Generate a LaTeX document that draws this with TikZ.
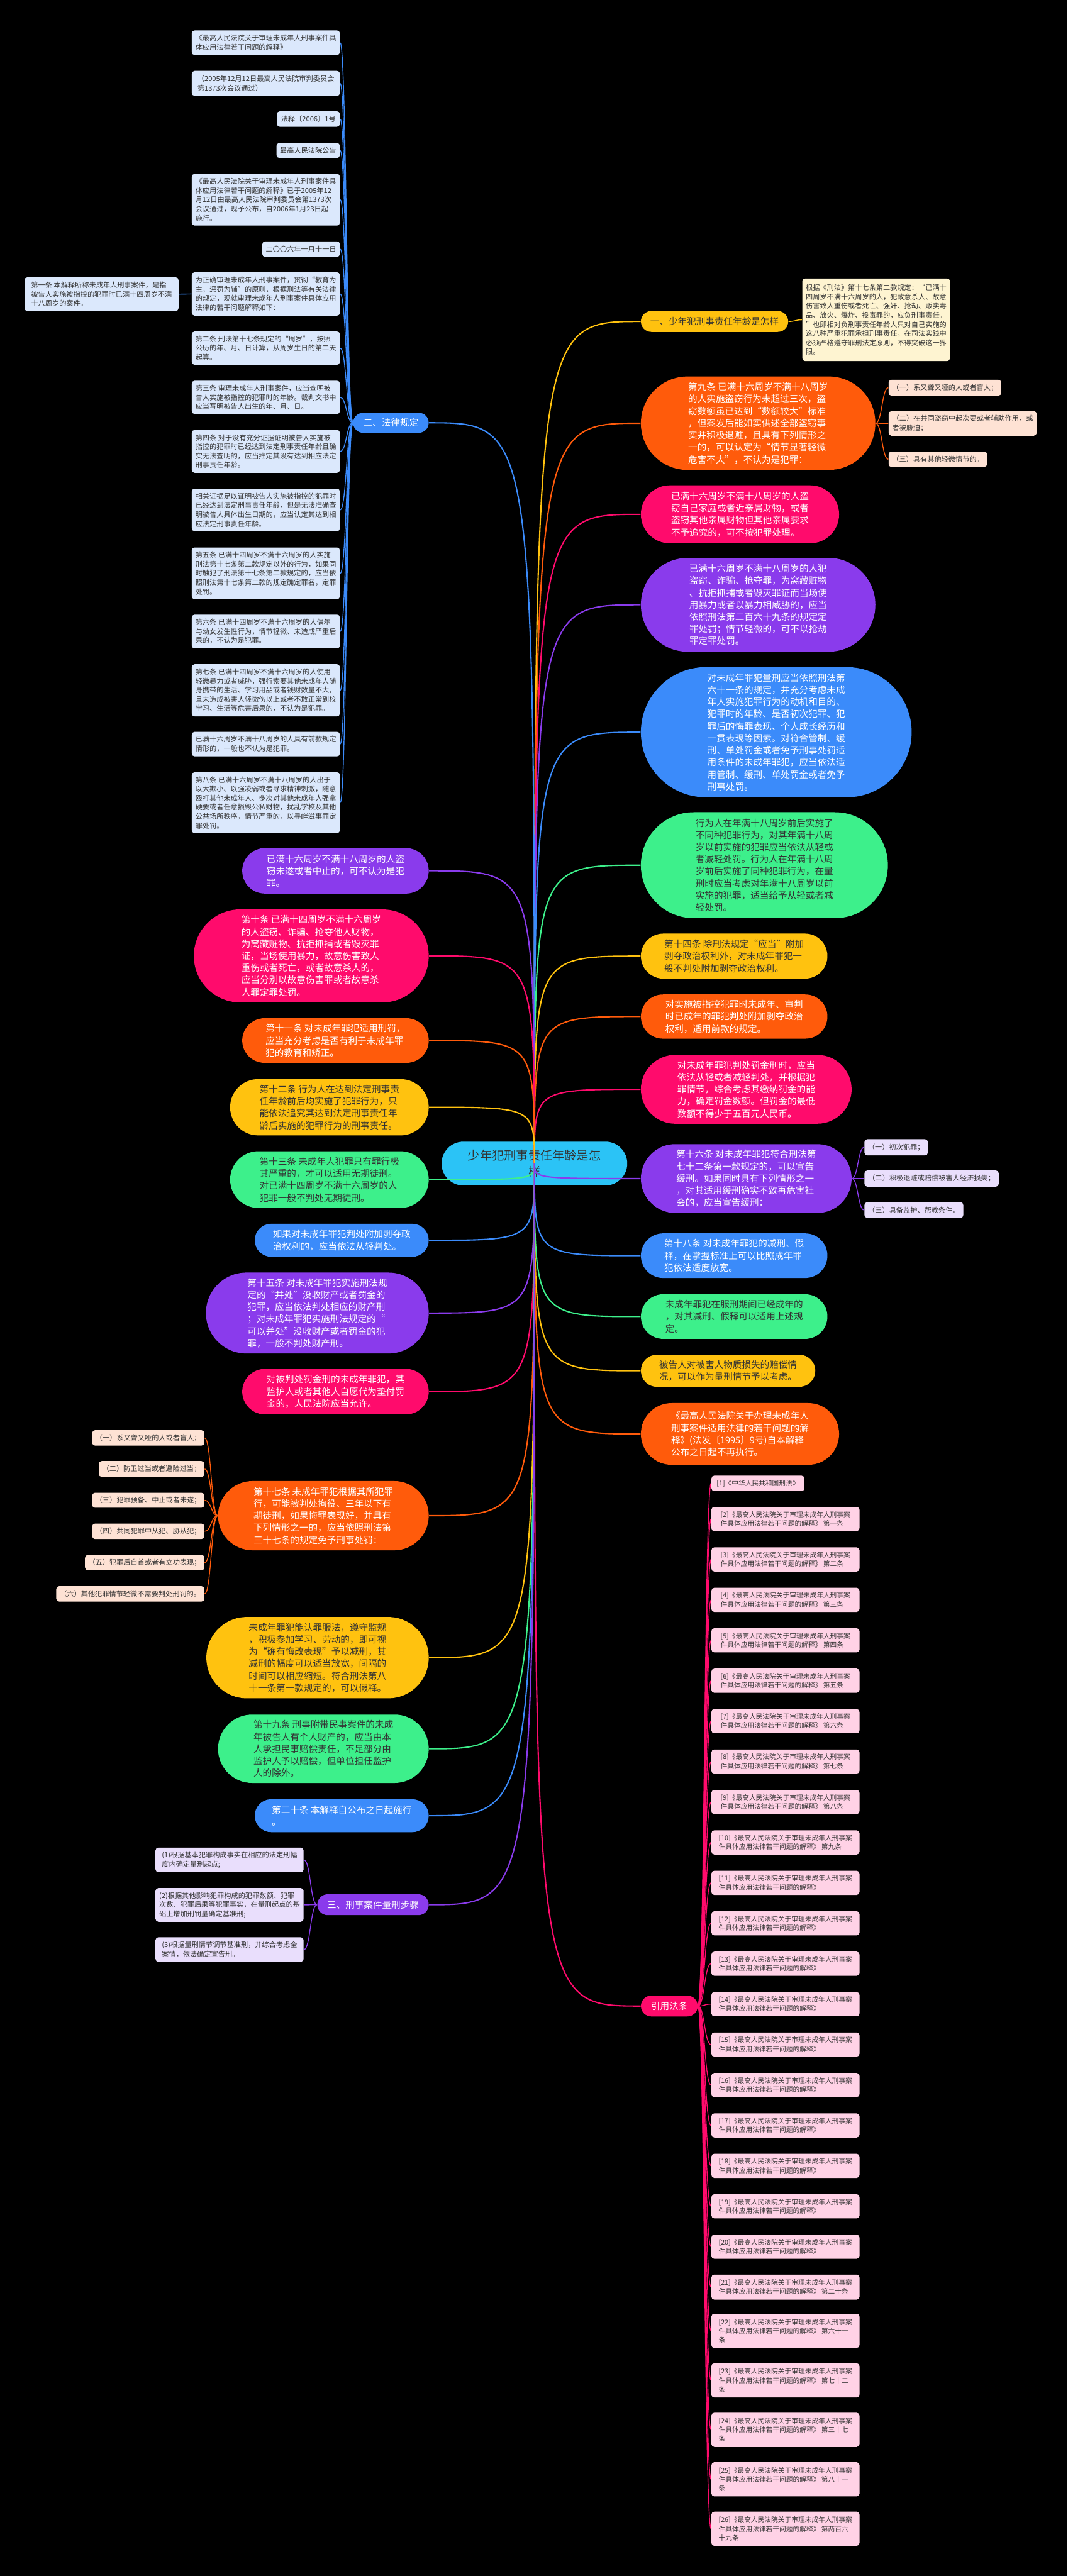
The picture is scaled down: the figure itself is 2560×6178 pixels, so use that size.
\documentclass[tikz,border=0pt]{standalone}
\usepackage{fontspec}
\setmainfont{Noto Sans CJK SC}
\usetikzlibrary{shapes.misc,calc}

\definecolor{themecyan}{HTML}{2BC3F6}
\definecolor{mmyellow}{HTML}{FFC20F}
\definecolor{mmorange}{HTML}{FF5B0B}
\definecolor{mmpink}{HTML}{FF0B6C}
\definecolor{mmpurple}{HTML}{8A3BEC}
\definecolor{mmblue}{HTML}{3B8BFA}
\definecolor{mmgreen}{HTML}{3DF08B}
\definecolor{ink}{HTML}{333333}
\definecolor{lawbox}{HTML}{DBE8FC}
\definecolor{notebox}{HTML}{FEF4D1}
\definecolor{peachbox}{HTML}{FEE2D4}
\definecolor{lilacbox}{HTML}{E9DEFC}
\definecolor{citebox}{HTML}{FFD2E6}

\newcommand{\pillfont}{\fontsize{6.26pt}{8.25pt}\selectfont}
\newcommand{\leaffont}{\fontsize{4.8pt}{6.26pt}\selectfont}
\newcommand{\citefont}{\fontsize{4.6pt}{6.1pt}\selectfont}
\newcommand{\themefont}{\fontsize{8.25pt}{10.8pt}\selectfont}

\begin{document}
\begin{tikzpicture}[x=0.01cm, y=-0.01cm, node distance=0.969cm]
      % Styles
      \tikzstyle{pill} = [rounded rectangle, inner sep=0pt, align=left, font=\pillfont, text=white]
      \tikzstyle{darkpill} = [pill, text=ink]
      \tikzstyle{leaf} = [rectangle, rounded corners=2pt, inner sep=0pt, align=left, font=\leaffont, text=ink]
      \tikzstyle{lawitem} = [leaf, fill=lawbox, minimum width=3.55cm]
      \tikzstyle{citeitem} = [leaf, fill=citebox, font=\citefont, minimum width=3.55cm]
      \tikzstyle{trunk} = [line width=0.9pt, to path={.. controls (\tikztostart |- \tikztotarget) .. (\tikztotarget)}]
      \tikzstyle{twig} = [line width=0.6pt, to path={.. controls ($(\tikztostart)!0.5!(\tikztotarget |- \tikztostart)$) and ($(\tikztotarget)!0.5!(\tikztostart |- \tikztotarget)$) .. (\tikztotarget)}]

      \path[fill=black, use as bounding box] (0,0) rectangle (2560,6178);

      % Nodes
      \node[pill, fill=themecyan, text=ink, font=\themefont, align=center, minimum width=4.45cm, minimum height=1.05cm] (theme) at (1281.5,2790.5) {少年犯刑事责任年龄是怎\\样};

      % right side
      \node[darkpill, fill=mmyellow, minimum width=3.53cm, minimum height=0.5cm] (age) at (1713.5,771) {一、少年犯刑事责任年龄是怎样};
      \node[leaf, fill=notebox, minimum width=3.54cm, minimum height=1.98cm] (agenote) at (2101,767) {根据《刑法》第十七条第二款规定：“已满十\\四周岁不满十六周岁的人，犯故意杀人、故意\\伤害致人重伤或者死亡、强奸、抢劫、贩卖毒\\品、放火、爆炸、投毒罪的，应负刑事责任。\\”也即相对负刑事责任年龄人只对自己实施的\\这八种严重犯罪承担刑事责任，在司法实践中\\必须严格遵守罪刑法定原则，不得突破这一界\\限。};
      \node[pill, fill=mmorange, minimum width=5.62cm, minimum height=2.24cm] (theft) at (1818,1015) {第九条 已满十六周岁不满十八周岁\\的人实施盗窃行为未超过三次，盗\\窃数额虽已达到“数额较大”标准\\，但案发后能如实供述全部盗窃事\\实并积极退赃，且具有下列情形之\\一的，可以认定为“情节显著轻微\\危害不大”，不认为是犯罪：};
      \node[leaf, fill=peachbox, minimum width=2.7cm, minimum height=0.38cm] (theft1) at (2266,930) {（一）系又聋又哑的人或者盲人；};
      \node[leaf, fill=peachbox, minimum width=3.55cm, minimum height=0.59cm] (theft2) at (2308.5,1015.5) {（二）在共同盗窃中起次要或者辅助作用，或\\者被胁迫；};
      \node[leaf, fill=peachbox, minimum width=2.36cm, minimum height=0.37cm] (theft3) at (2249,1101.5) {（三）具有其他轻微情节的。};
      \node[pill, fill=mmpink, minimum width=4.75cm, minimum height=1.39cm] (family) at (1774.5,1233.5) {已满十六周岁不满十八周岁的人盗\\窃自己家庭或者近亲属财物，或者\\盗窃其他亲属财物但其他亲属要求\\不予追究的，可不按犯罪处理。};
      \node[pill, fill=mmpurple, minimum width=5.62cm, minimum height=2.25cm] (robbery) at (1818,1450.5) {已满十六周岁不满十八周岁的人犯\\盗窃、诈骗、抢夺罪，为窝藏赃物\\、抗拒抓捕或者毁灭罪证而当场使\\用暴力或者以暴力相威胁的，应当\\依照刑法第二百六十九条的规定定\\罪处罚；情节轻微的，可不以抢劫\\罪定罪处罚。};
      \node[pill, fill=mmblue, minimum width=6.49cm, minimum height=3.12cm] (sentence) at (1861.5,1756) {对未成年罪犯量刑应当依照刑法第\\六十一条的规定，并充分考虑未成\\年人实施犯罪行为的动机和目的、\\犯罪时的年龄、是否初次犯罪、犯\\罪后的悔罪表现、个人成长经历和\\一贯表现等因素。对符合管制、缓\\刑、单处罚金或者免予刑事处罚适\\用条件的未成年罪犯，应当依法适\\用管制、缓刑、单处罚金或者免予\\刑事处罚。};
      \node[darkpill, fill=mmgreen, minimum width=5.92cm, minimum height=2.54cm] (crossage) at (1833,2075) {行为人在年满十八周岁前后实施了\\不同种犯罪行为，对其年满十八周\\岁以前实施的犯罪应当依法从轻或\\者减轻处罚。行为人在年满十八周\\岁前后实施了同种犯罪行为，在量\\刑时应当考虑对年满十八周岁以前\\实施的犯罪，适当给予从轻或者减\\轻处罚。};
      \node[darkpill, fill=mmyellow, minimum width=4.47cm, minimum height=1.08cm] (deprive) at (1760.5,2293) {第十四条 除刑法规定“应当”附加\\剥夺政治权利外，对未成年罪犯一\\般不判处附加剥夺政治权利。};
      \node[pill, fill=mmorange, minimum width=4.47cm, minimum height=1.06cm] (adult) at (1760.5,2438) {对实施被指控犯罪时未成年、审判\\时已成年的罪犯判处附加剥夺政治\\权利，适用前款的规定。};
      \node[pill, fill=mmpink, minimum width=5.05cm, minimum height=1.65cm] (fine) at (1789.5,2612.5) {对未成年罪犯判处罚金刑时，应当\\依法从轻或者减轻判处，并根据犯\\罪情节，综合考虑其缴纳罚金的能\\力，确定罚金数额。但罚金的最低\\数额不得少于五百元人民币。};
      \node[pill, fill=mmpurple, minimum width=5.05cm, minimum height=1.65cm] (probation) at (1789.5,2826.5) {第十六条 对未成年罪犯符合刑法第\\七十二条第一款规定的，可以宣告\\缓刑。如果同时具有下列情形之一\\，对其适用缓刑确实不致再危害社\\会的，应当宣告缓刑：};
      \node[leaf, fill=lilacbox, minimum width=1.52cm, minimum height=0.39cm] (probation1) at (2149,2751.5) {（一）初次犯罪；};
      \node[leaf, fill=lilacbox, minimum width=3.22cm, minimum height=0.39cm] (probation2) at (2234,2826.5) {（二）积极退赃或赔偿被害人经济损失；};
      \node[leaf, fill=lilacbox, minimum width=2.37cm, minimum height=0.38cm] (probation3) at (2191.5,2902) {（三）具备监护、帮教条件。};
      \node[pill, fill=mmblue, minimum width=4.47cm, minimum height=1.07cm] (commute) at (1760.5,3011.5) {第十八条 对未成年罪犯的减刑、假\\释，在掌握标准上可以比照成年罪\\犯依法适度放宽。};
      \node[darkpill, fill=mmgreen, minimum width=4.47cm, minimum height=1.07cm] (serving) at (1760.5,3157.5) {未成年罪犯在服刑期间已经成年的\\，对其减刑、假释可以适用上述规\\定。};
      \node[darkpill, fill=mmyellow, minimum width=4.18cm, minimum height=0.77cm] (compensate) at (1746,3287.5) {被告人对被害人物质损失的赔偿情\\况，可以作为量刑情节予以考虑。};
      \node[pill, fill=mmorange, minimum width=4.75cm, minimum height=1.48cm] (repeal) at (1774.5,3439) {《最高人民法院关于办理未成年人\\刑事案件适用法律的若干问题的解\\释》(法发〔1995〕9号)自本解释\\公布之日起不再执行。};
      \node[pill, fill=mmpink, minimum width=1.36cm, minimum height=0.5cm] (cite) at (1605,4811) {引用法条};

      % cited articles
      \node[citeitem, minimum width=2.23cm, minimum height=0.37cm] (cite1) at (1817.5,3557.5) {[1]《中华人民共和国刑法》};
      \node[citeitem, minimum height=0.58cm] (cite2) at (1883.5,3643) {[2]《最高人民法院关于审理未成年人刑事案\\件具体应用法律若干问题的解释》 第一条};
      \node[citeitem, minimum height=0.58cm, below of=cite2] (cite3) {[3]《最高人民法院关于审理未成年人刑事案\\件具体应用法律若干问题的解释》 第二条};
      \node[citeitem, minimum height=0.58cm, below of=cite3] (cite4) {[4]《最高人民法院关于审理未成年人刑事案\\件具体应用法律若干问题的解释》 第三条};
      \node[citeitem, minimum height=0.58cm, below of=cite4] (cite5) {[5]《最高人民法院关于审理未成年人刑事案\\件具体应用法律若干问题的解释》 第四条};
      \node[citeitem, minimum height=0.58cm, below of=cite5] (cite6) {[6]《最高人民法院关于审理未成年人刑事案\\件具体应用法律若干问题的解释》 第五条};
      \node[citeitem, minimum height=0.58cm, below of=cite6] (cite7) {[7]《最高人民法院关于审理未成年人刑事案\\件具体应用法律若干问题的解释》 第六条};
      \node[citeitem, minimum height=0.58cm, below of=cite7] (cite8) {[8]《最高人民法院关于审理未成年人刑事案\\件具体应用法律若干问题的解释》 第七条};
      \node[citeitem, minimum height=0.58cm, below of=cite8] (cite9) {[9]《最高人民法院关于审理未成年人刑事案\\件具体应用法律若干问题的解释》 第八条};
      \node[citeitem, minimum height=0.58cm, below of=cite9] (cite10) {[10]《最高人民法院关于审理未成年人刑事案\\件具体应用法律若干问题的解释》 第九条};
      \node[citeitem, minimum height=0.58cm, below of=cite10] (cite11) {[11]《最高人民法院关于审理未成年人刑事案\\件具体应用法律若干问题的解释》};
      \node[citeitem, minimum height=0.58cm, below of=cite11] (cite12) {[12]《最高人民法院关于审理未成年人刑事案\\件具体应用法律若干问题的解释》};
      \node[citeitem, minimum height=0.58cm, below of=cite12] (cite13) {[13]《最高人民法院关于审理未成年人刑事案\\件具体应用法律若干问题的解释》};
      \node[citeitem, minimum height=0.58cm, below of=cite13] (cite14) {[14]《最高人民法院关于审理未成年人刑事案\\件具体应用法律若干问题的解释》};
      \node[citeitem, minimum height=0.58cm, below of=cite14] (cite15) {[15]《最高人民法院关于审理未成年人刑事案\\件具体应用法律若干问题的解释》};
      \node[citeitem, minimum height=0.58cm, below of=cite15] (cite16) {[16]《最高人民法院关于审理未成年人刑事案\\件具体应用法律若干问题的解释》};
      \node[citeitem, minimum height=0.58cm, below of=cite16] (cite17) {[17]《最高人民法院关于审理未成年人刑事案\\件具体应用法律若干问题的解释》};
      \node[citeitem, minimum height=0.58cm, below of=cite17] (cite18) {[18]《最高人民法院关于审理未成年人刑事案\\件具体应用法律若干问题的解释》};
      \node[citeitem, minimum height=0.58cm, below of=cite18] (cite19) {[19]《最高人民法院关于审理未成年人刑事案\\件具体应用法律若干问题的解释》};
      \node[citeitem, minimum height=0.58cm, below of=cite19] (cite20) {[20]《最高人民法院关于审理未成年人刑事案\\件具体应用法律若干问题的解释》};
      \node[citeitem, minimum height=0.6cm, below of=cite20] (cite21) {[21]《最高人民法院关于审理未成年人刑事案\\件具体应用法律若干问题的解释》 第二十条};
      \node[citeitem, minimum height=0.82cm] (cite22) at (1883.5,5590) {[22]《最高人民法院关于审理未成年人刑事案\\件具体应用法律若干问题的解释》 第六十一\\条};
      \node[citeitem, minimum height=0.82cm, node distance=1.186cm, below of=cite22] (cite23) {[23]《最高人民法院关于审理未成年人刑事案\\件具体应用法律若干问题的解释》 第七十二\\条};
      \node[citeitem, minimum height=0.82cm, node distance=1.186cm, below of=cite23] (cite24) {[24]《最高人民法院关于审理未成年人刑事案\\件具体应用法律若干问题的解释》 第三十七\\条};
      \node[citeitem, minimum height=0.82cm, node distance=1.186cm, below of=cite24] (cite25) {[25]《最高人民法院关于审理未成年人刑事案\\件具体应用法律若干问题的解释》 第八十一\\条};
      \node[citeitem, minimum height=0.82cm, node distance=1.186cm, below of=cite25] (cite26) {[26]《最高人民法院关于审理未成年人刑事案\\件具体应用法律若干问题的解释》 第两百六\\十九条};

      % left side
      \node[pill, fill=mmblue, minimum width=1.81cm, minimum height=0.48cm] (rules) at (937.5,1014) {二、法律规定};
      \node[lawitem, minimum height=0.59cm] (law1) at (637.5,102.5) {《最高人民法院关于审理未成年人刑事案件具\\体应用法律若干问题的解释》};
      \node[lawitem, minimum height=0.6cm] (law2) at (637.5,200) {（2005年12月12日最高人民法院审判委员会\\第1373次会议通过）};
      \node[lawitem, minimum width=1.51cm, minimum height=0.37cm] (law3) at (739.5,285.5) {法释〔2006〕1号};
      \node[lawitem, minimum width=1.52cm, minimum height=0.36cm] (law4) at (739,361) {最高人民法院公告};
      \node[lawitem, minimum height=1.24cm] (law5) at (637.5,479) {《最高人民法院关于审理未成年人刑事案件具\\体应用法律若干问题的解释》已于2005年12\\月12日由最高人民法院审判委员会第1373次\\会议通过，现予公布，自2006年1月23日起\\施行。};
      \node[lawitem, minimum width=1.86cm, minimum height=0.37cm] (law6) at (722,597.5) {二〇〇六年一月十一日};
      \node[lawitem, minimum height=1.04cm] (law7) at (637.5,705) {为正确审理未成年人刑事案件，贯彻“教育为\\主，惩罚为辅”的原则，根据刑法等有关法律\\的规定，现就审理未成年人刑事案件具体应用\\法律的若干问题解释如下：};
      \node[lawitem, minimum width=3.69cm, minimum height=0.81cm] (lawfirst) at (243.5,705.5) {第一条 本解释所称未成年人刑事案件，是指\\被告人实施被指控的犯罪时已满十四周岁不满\\十八周岁的案件。};
      \node[lawitem, minimum height=0.8cm] (law8) at (637.5,835) {第二条 刑法第十七条规定的“周岁”，按照\\公历的年、月、日计算，从周岁生日的第二天\\起算。};
      \node[lawitem, minimum height=0.8cm] (law9) at (637.5,953) {第三条 审理未成年人刑事案件，应当查明被\\告人实施被指控的犯罪时的年龄。裁判文书中\\应当写明被告人出生的年、月、日。};
      \node[lawitem, minimum height=1.03cm] (law10) at (637.5,1082.5) {第四条 对于没有充分证据证明被告人实施被\\指控的犯罪时已经达到法定刑事责任年龄且确\\实无法查明的，应当推定其没有达到相应法定\\刑事责任年龄。};
      \node[lawitem, minimum height=1.02cm] (law11) at (637.5,1223) {相关证据足以证明被告人实施被指控的犯罪时\\已经达到法定刑事责任年龄，但是无法准确查\\明被告人具体出生日期的，应当认定其达到相\\应法定刑事责任年龄。};
      \node[lawitem, minimum height=1.24cm] (law12) at (637.5,1375) {第五条 已满十四周岁不满十六周岁的人实施\\刑法第十七条第二款规定以外的行为，如果同\\时触犯了刑法第十七条第二款规定的，应当依\\照刑法第十七条第二款的规定确定罪名，定罪\\处罚。};
      \node[lawitem, minimum height=0.81cm] (law13) at (637.5,1514.5) {第六条 已满十四周岁不满十六周岁的人偶尔\\与幼女发生性行为，情节轻微、未造成严重后\\果的，不认为是犯罪。};
      \node[lawitem, minimum height=1.25cm] (law14) at (637.5,1655.5) {第七条 已满十四周岁不满十六周岁的人使用\\轻微暴力或者威胁，强行索要其他未成年人随\\身携带的生活、学习用品或者钱财数量不大，\\且未造成被害人轻微伤以上或者不敢正常到校\\学习、生活等危害后果的，不认为是犯罪。};
      \node[lawitem, minimum height=0.59cm] (law15) at (637.5,1784.5) {已满十六周岁不满十八周岁的人具有前款规定\\情形的，一般也不认为是犯罪。};
      \node[lawitem, minimum height=1.46cm] (law16) at (637.5,1925) {第八条 已满十六周岁不满十八周岁的人出于\\以大欺小、以强凌弱或者寻求精神刺激，随意\\殴打其他未成年人、多次对其他未成年人强拿\\硬要或者任意损毁公私财物，扰乱学校及其他\\公共场所秩序，情节严重的，以寻衅滋事罪定\\罪处罚。};

      \node[pill, fill=mmpurple, minimum width=4.47cm, minimum height=1.09cm] (attempt) at (804.5,2088.5) {已满十六周岁不满十八周岁的人盗\\窃未遂或者中止的，可不认为是犯\\罪。};
      \node[pill, fill=mmpink, minimum width=5.63cm, minimum height=2.23cm] (violence) at (746.5,2292.5) {第十条 已满十四周岁不满十六周岁\\的人盗窃、诈骗、抢夺他人财物，\\为窝藏赃物、抗拒抓捕或者毁灭罪\\证，当场使用暴力，故意伤害致人\\重伤或者死亡，或者故意杀人的，\\应当分别以故意伤害罪或者故意杀\\人罪定罪处罚。};
      \node[pill, fill=mmorange, minimum width=4.47cm, minimum height=1.07cm] (correct) at (804.5,2495.5) {第十一条 对未成年罪犯适用刑罚，\\应当充分考虑是否有利于未成年罪\\犯的教育和矫正。};
      \node[darkpill, fill=mmyellow, minimum width=4.76cm, minimum height=1.35cm] (threshold) at (790,2655.5) {第十二条 行为人在达到法定刑事责\\任年龄前后均实施了犯罪行为，只\\能依法追究其达到法定刑事责任年\\龄后实施的犯罪行为的刑事责任。};
      \node[darkpill, fill=mmgreen, minimum width=4.76cm, minimum height=1.36cm] (lifeterm) at (790,2829) {第十三条 未成年人犯罪只有罪行极\\其严重的，才可以适用无期徒刑。\\对已满十四周岁不满十六周岁的人\\犯罪一般不判处无期徒刑。};
      \node[pill, fill=mmblue, minimum width=4.17cm, minimum height=0.79cm] (lighter) at (819.5,2974.5) {如果对未成年罪犯判处附加剥夺政\\治权利的，应当依法从轻判处。};
      \node[pill, fill=mmpurple, minimum width=5.34cm, minimum height=1.94cm] (property) at (761,3149) {第十五条 对未成年罪犯实施刑法规\\定的“并处”没收财产或者罚金的\\犯罪，应当依法判处相应的财产刑\\；对未成年罪犯实施刑法规定的“\\可以并处”没收财产或者罚金的犯\\罪，一般不判处财产刑。};
      \node[pill, fill=mmpink, minimum width=4.47cm, minimum height=1.09cm] (advance) at (804.5,3337.5) {对被判处罚金刑的未成年罪犯，其\\监护人或者其他人自愿代为垫付罚\\金的，人民法院应当允许。};
      \node[pill, fill=mmorange, minimum width=5.05cm, minimum height=1.66cm] (exempt) at (775.5,3635) {第十七条 未成年罪犯根据其所犯罪\\行，可能被判处拘役、三年以下有\\期徒刑，如果悔罪表现好，并具有\\下列情形之一的，应当依照刑法第\\三十七条的规定免予刑事处罚：};
      \node[leaf, fill=peachbox, minimum width=2.69cm, minimum height=0.37cm] (exempt1) at (355.5,3448.5) {（一）系又聋又哑的人或者盲人；};
      \node[leaf, fill=peachbox, minimum width=2.53cm, minimum height=0.38cm] (exempt2) at (363.5,3523) {（二）防卫过当或者避险过当；};
      \node[leaf, fill=peachbox, minimum width=2.69cm, minimum height=0.36cm] (exempt3) at (355.5,3598) {（三）犯罪预备、中止或者未遂；};
      \node[leaf, fill=peachbox, minimum width=2.69cm, minimum height=0.37cm] (exempt4) at (355.5,3672.5) {（四）共同犯罪中从犯、胁从犯；};
      \node[leaf, fill=peachbox, minimum width=2.86cm, minimum height=0.37cm] (exempt5) at (347,3747.5) {（五）犯罪后自首或者有立功表现；};
      \node[leaf, fill=peachbox, minimum width=3.55cm, minimum height=0.37cm] (exempt6) at (312.5,3822.5) {（六）其他犯罪情节轻微不需要判处刑罚的。};
      \node[darkpill, fill=mmyellow, minimum width=5.33cm, minimum height=1.95cm] (parole) at (761.5,3975.5) {未成年罪犯能认罪服法，遵守监规\\，积极参加学习、劳动的，即可视\\为“确有悔改表现”予以减刑，其\\减刑的幅度可以适当放宽，间隔的\\时间可以相应缩短。符合刑法第八\\十一条第一款规定的，可以假释。};
      \node[darkpill, fill=mmgreen, minimum width=5.05cm, minimum height=1.64cm] (civil) at (775.5,4194) {第十九条 刑事附带民事案件的未成\\年被告人有个人财产的，应当由本\\人承担民事赔偿责任，不足部分由\\监护人予以赔偿，但单位担任监护\\人的除外。};
      \node[pill, fill=mmblue, minimum width=4.17cm, minimum height=0.79cm] (effect) at (819.5,4354.5) {第二十条 本解释自公布之日起施行\\。};
      \node[pill, fill=mmpurple, minimum width=2.67cm, minimum height=0.5cm] (steps) at (894.5,4568) {三、刑事案件量刑步骤};
      \node[leaf, fill=lilacbox, minimum width=3.55cm, minimum height=0.59cm] (step1) at (550.5,4460.5) {(1)根据基本犯罪构成事实在相应的法定刑幅\\度内确定量刑起点;};
      \node[leaf, fill=lilacbox, minimum width=3.55cm, minimum height=0.81cm] (step2) at (550.5,4568.5) {(2)根据其他影响犯罪构成的犯罪数额、犯罪\\次数、犯罪后果等犯罪事实，在量刑起点的基\\础上增加刑罚量确定基准刑;};
      \node[leaf, fill=lilacbox, minimum width=3.55cm, minimum height=0.59cm] (step3) at (550.5,4675.5) {(3)根据量刑情节调节基准刑，并综合考虑全\\案情，依法确定宣告刑。};

      % Connectors
      \foreach \n/\c in {age/mmyellow, theft/mmorange, family/mmpink, robbery/mmpurple, sentence/mmblue, crossage/mmgreen, deprive/mmyellow, adult/mmorange, fine/mmpink, probation/mmpurple, commute/mmblue, serving/mmgreen, compensate/mmyellow, repeal/mmorange, cite/mmpink}
        \draw[trunk, \c] (theme.center) to (\n.west);
      \foreach \n/\c in {rules/mmblue, attempt/mmpurple, violence/mmpink, correct/mmorange, threshold/mmyellow, lifeterm/mmgreen, lighter/mmblue, property/mmpurple, advance/mmpink, exempt/mmorange, parole/mmyellow, civil/mmgreen, effect/mmblue, steps/mmpurple}
        \draw[trunk, \c] (theme.center) to (\n.east);

      \draw[twig, mmyellow] (age.east) to (agenote.west);
      \foreach \i in {1,...,16} \draw[twig, mmblue] (rules.west) to (law\i.east);
      \draw[twig, mmblue] (law7.west) to (lawfirst.east);
      \foreach \i in {1,2,3} \draw[twig, mmorange] (theft.east) to (theft\i.west);
      \foreach \i in {1,2,3} \draw[twig, mmpurple] (probation.east) to (probation\i.west);
      \foreach \i in {1,...,6} \draw[twig, mmorange] (exempt.west) to (exempt\i.east);
      \foreach \i in {1,2,3} \draw[twig, mmpurple] (steps.west) to (step\i.east);
      \foreach \i in {1,...,26} \draw[twig, mmpink] (cite.east) to (cite\i.west);
  \end{tikzpicture}
\end{document}
